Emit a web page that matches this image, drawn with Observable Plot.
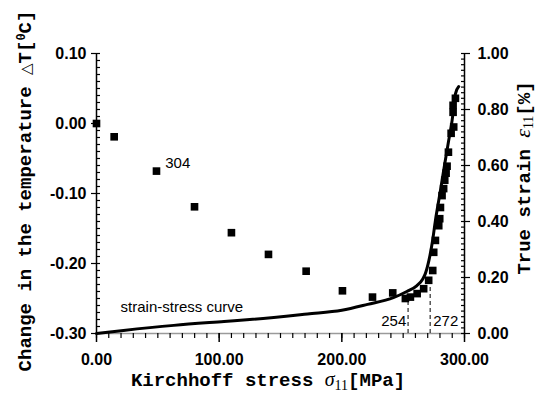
<!DOCTYPE html>
<html><head><meta charset="utf-8">
<script src="https://cdn.jsdelivr.net/npm/d3@7"></script>
<script src="https://cdn.jsdelivr.net/npm/@observablehq/plot@0.6"></script>
<style>body{margin:0;background:#fff}#chart{width:538px;height:394px}</style>
</head><body><div id="chart"></div>
<script>
// Temperature change measurements (Kirchhoff stress [MPa], ΔT [°C])
const tempStress = [0, 14.4, 48.9, 79.9, 110, 140.2, 170.9, 200.5, 225, 241.5, 251.8, 255.9, 261.4, 266.7, 270.8, 274.1, 274.9, 276.3, 279, 279.8, 280.4, 281.7, 283, 283.9, 285, 285.8, 286.9, 289.1, 291.2, 290.7, 290.7, 292.6];
const tempValues = [0.000, -0.019, -0.068, -0.119, -0.156, -0.187, -0.211, -0.239, -0.248, -0.242, -0.250, -0.248, -0.243, -0.236, -0.224, -0.210, -0.184, -0.167, -0.146, -0.136, -0.120, -0.103, -0.093, -0.081, -0.071, -0.061, -0.041, -0.014, -0.005, 0.016, 0.026, 0.036];
// Strain-stress curve (Kirchhoff stress [MPa], true strain [%])
const curveStress = [0, 22, 63, 104, 125, 172, 200, 221, 242, 253, 261, 266, 268, 271, 274, 276.3, 279, 280.4, 283.9, 287.1, 289.9, 291.2, 292.6, 295.3];
const curveStrain = [0, 0.011, 0.029, 0.043, 0.050, 0.070, 0.083, 0.104, 0.128, 0.150, 0.170, 0.195, 0.213, 0.261, 0.332, 0.404, 0.475, 0.511, 0.606, 0.689, 0.761, 0.808, 0.856, 0.882];
// Axes
const xTicks = [0, 100, 200, 300];
const leftTicks = [-0.3, -0.2, -0.1, 0, 0.1];
const rightTicks = [0, 0.2, 0.4, 0.6, 0.8, 1.0];
// Dashed markers
const dashStress = [254, 272];
const dashTop = [-0.252, -0.232];
// Annotations
const noteText = ["304", "strain-stress curve", "254", "272"];
const noteX = [56, 19.6, 252.5, 274.5];
const noteY = [-0.057, -0.262, -0.282, -0.282];
const noteAnchor = ["start", "start", "end", "start"];

const tMin = -0.3, tMax = 0.1;
const toTemp = e => tMin + (tMax - tMin) * e;   // strain -> left-axis units
const fromTemp = t => (t - tMin) / (tMax - tMin);

const tempData = tempStress.map((s, i) => ({s, t: tempValues[i]}));
const curveData = curveStress.map((s, i) => ({s, e: curveStrain[i]}));
const dashData = dashStress.map((s, i) => ({s, top: dashTop[i]}));
const notes = noteText.map((text, i) => ({text, x: noteX[i], y: noteY[i], anchor: noteAnchor[i]}));

const leftMinor = d3.range(0, 41).map(i => tMin + i * 0.01);
const rightMinor = d3.range(0, 51).map(i => toTemp(i * 0.02));
const xMinor = d3.range(0, 31).map(i => i * 10);

const tickFont = {fontFamily: "Liberation Sans, Arial, sans-serif", fontWeight: "bold", fontSize: 16};

const plot = Plot.plot({
  width: 538, height: 394,
  marginLeft: 96, marginRight: 74, marginTop: 53, marginBottom: 61,
  style: {fontFamily: "Liberation Sans, Arial, sans-serif", fontSize: "15px", color: "#000", background: "#fff"},
  x: {domain: [0, 300]},
  y: {domain: [tMin, tMax]},
  marks: [
    // axis lines
    Plot.ruleY([tMin], {stroke: "#9a9a9a", strokeWidth: 1.5}),
    Plot.ruleX([0], {stroke: "#000", strokeWidth: 1.5}),
    Plot.ruleX([300], {stroke: "#000", strokeWidth: 1.5}),
    // left axis
    Plot.axisY({anchor: "left", ticks: leftMinor, tickSize: -4, tickFormat: () => "", label: null, strokeWidth: 1.2}),
    Plot.axisY({anchor: "left", ticks: leftTicks, tickSize: 5, tickPadding: 5, tickFormat: d => (Math.abs(d) < 1e-9 ? 0 : d).toFixed(2), label: null, ...tickFont, strokeWidth: 1.2}),
    // right axis
    Plot.axisY({anchor: "right", ticks: rightMinor, tickSize: -4, tickFormat: () => "", label: null, strokeWidth: 1.2}),
    Plot.axisY({anchor: "right", ticks: rightTicks.map(toTemp), tickSize: 5, tickPadding: 8, tickFormat: t => fromTemp(t).toFixed(2), label: null, ...tickFont, strokeWidth: 1.2}),
    // bottom axis
    Plot.axisX({anchor: "bottom", ticks: xMinor, tickSize: 5, tickFormat: () => "", label: null, strokeWidth: 1.2}),
    Plot.axisX({anchor: "bottom", ticks: xTicks, tickSize: 9, tickPadding: 11, tickFormat: d => d.toFixed(2), label: null, ...tickFont, strokeWidth: 1.5}),
    // dashed guides
    Plot.ruleX(dashData, {x: "s", y1: tMin, y2: "top", stroke: "#000", strokeDasharray: "4,3", strokeWidth: 1}),
    // strain-stress curve
    Plot.line(curveData, {x: "s", y: d => toTemp(d.e), stroke: "#000", strokeWidth: 3, curve: "monotone-x"}),
    // temperature points
    Plot.dot(tempData, {x: "s", y: "t", symbol: "square", r: 4.3, fill: "#000", stroke: null}),
    // annotations
    Plot.text(notes.filter(d => d.anchor === "start"), {x: "x", y: "y", text: "text", textAnchor: "start", fontSize: 15, fill: "#000"}),
    Plot.text(notes.filter(d => d.anchor === "end"), {x: "x", y: "y", text: "text", textAnchor: "end", fontSize: 15, fill: "#000"})
  ]
});
document.getElementById("chart").appendChild(plot);

// Axis titles with mixed typography
const svg = d3.select(plot);
const mono = "Liberation Mono, Courier New, monospace";
const serif = "Liberation Serif, Times New Roman, serif";

function title(x, y, rot, parts) {
  const t = svg.append("text")
    .attr("transform", `translate(${x},${y}) rotate(${rot})`)
    .attr("text-anchor", "middle")
    .attr("fill", "#000");
  for (const p of parts) {
    const s = t.append("tspan").text(p.text)
      .attr("font-family", p.font || mono)
      .attr("font-size", p.size || 19)
      .attr("font-weight", p.weight || "bold");
    if (p.style) s.attr("font-style", p.style);
    if (p.dy) s.attr("dy", p.dy);
  }
}
title(31, 191, -90, [
  {text: "Change in the temperature "},
  {text: "\u25B3", font: "DejaVu Sans, sans-serif", weight: "normal", size: 15},
  {text: "T["},
  {text: "0", size: 12, dy: -6},
  {text: "C]", dy: 6}
]);
title(268, 386, 0, [
  {text: "Kirchhoff stress "},
  {text: "\u03C3", font: serif, weight: "normal", style: "italic", size: 20},
  {text: "11", font: serif, weight: "normal", size: 14, dy: 4},
  {text: "[MPa]", dy: -4}
]);
title(530, 178, -90, [
  {text: "True strain "},
  {text: "\u03B5", font: serif, weight: "normal", style: "italic", size: 22},
  {text: "11", font: serif, weight: "normal", size: 14, dy: 3},
  {text: "[%]", dy: -3}
]);
</script>
</body></html>
